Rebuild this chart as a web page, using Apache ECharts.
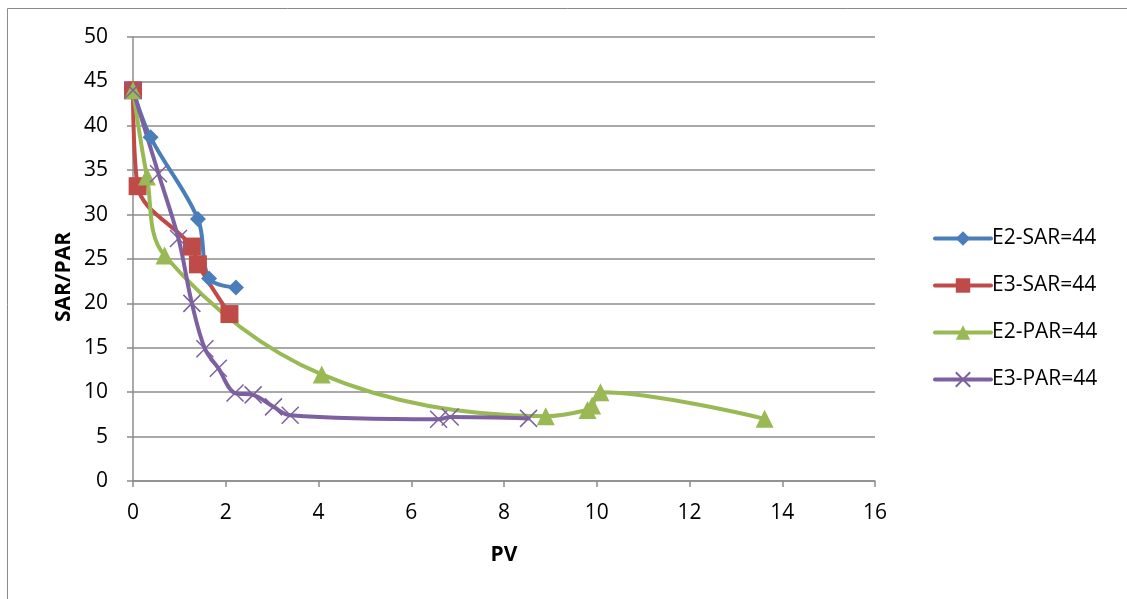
<!DOCTYPE html>
<html>
<head>
<meta charset="utf-8">
<script src="https://cdn.jsdelivr.net/npm/echarts@6/dist/echarts.min.js"></script>
<style>
  html, body { margin: 0; padding: 0; background: #fff; }
  #chart { width: 1127px; height: 599px; }
</style>
</head>
<body>
<div id="chart"></div>
<script>
// Series names
const seriesNames = ['E2-SAR=44', 'E3-SAR=44', 'E2-PAR=44', 'E3-PAR=44'];

// [PV, SAR/PAR] pairs for each series
const e2Sar = [[0, 44], [0.38, 38.7], [1.40, 29.5], [1.64, 22.8], [2.22, 21.8]];
const e3Sar = [[0, 44], [0.10, 33.2], [1.27, 26.4], [1.40, 24.4], [2.08, 18.8]];
const e2Par = [[0, 44], [0.30, 34.3], [0.68, 25.4], [4.07, 12.0], [8.90, 7.3],
               [9.80, 8.0], [9.90, 8.5], [10.08, 10.0], [13.62, 7.0]];
const e3Par = [[0, 44], [0.55, 34.6], [0.98, 27.3], [1.27, 20.0], [1.55, 14.9],
               [1.84, 12.7], [2.20, 9.9], [2.59, 9.7], [3.03, 8.35], [3.39, 7.4],
               [6.59, 6.95], [6.84, 7.2], [8.53, 7.05]];

// Axis ranges
const xRange = { min: 0, max: 16, interval: 2 };
const yRange = { min: 0, max: 50, interval: 5 };

const colors = ['#4a7ebb', '#be4b48', '#98b954', '#7d60a0'];
const font = 'Open Sans, Liberation Sans, sans-serif';
const gridGray = '#8c8c8c';

const chart = echarts.init(document.getElementById('chart'), null, { renderer: 'canvas' });

function lineSeries(name, data, color, symbol, size, extra) {
  return Object.assign({
    name: name,
    type: 'line',
    data: data,
    smooth: 0.35,
    symbol: symbol,
    symbolSize: size,
    showAllSymbol: true,
    lineStyle: { color: color, width: 4, cap: 'round', join: 'round' },
    itemStyle: { color: color },
    emphasis: { disabled: true }
  }, extra || {});
}

chart.setOption({
  animation: false,
  backgroundColor: '#fff',
  color: colors,
  grid: { left: 133, right: 252, top: 37, bottom: 118 },
  graphic: [{
    type: 'rect',
    shape: { x: 7.5, y: 8.5, width: 1200, height: 700 },
    style: { fill: 'none', stroke: '#8a8a8a', lineWidth: 1 },
    silent: true, z: -1
  }],
  legend: {
    orient: 'vertical',
    left: 928,
    top: 223,
    itemWidth: 56,
    itemHeight: 18,
    itemGap: 26,
    lineStyle: { width: 4, cap: 'round' },
    textStyle: { fontFamily: font, fontSize: 21, color: '#000', padding: [0, 0, 0, -4] },
    data: seriesNames
  },
  xAxis: {
    type: 'value',
    min: xRange.min, max: xRange.max, interval: xRange.interval,
    name: 'PV',
    nameLocation: 'middle',
    nameMoveOverlap: false,
    nameGap: 64,
    nameTextStyle: { fontFamily: font, fontSize: 21, fontWeight: 'bold', color: '#000' },
    axisLine: { show: true, lineStyle: { color: gridGray, width: 1.5 } },
    axisTick: { show: true, length: 6, lineStyle: { color: gridGray, width: 1.5 } },
    axisLabel: { fontFamily: font, fontSize: 21, color: '#000', margin: 22 },
    splitLine: { show: false }
  },
  yAxis: {
    type: 'value',
    min: yRange.min, max: yRange.max, interval: yRange.interval,
    name: 'SAR/PAR',
    nameLocation: 'middle',
    nameMoveOverlap: false,
    nameGap: 58,
    nameTextStyle: { fontFamily: font, fontSize: 21, fontWeight: 'bold', color: '#000', padding: [0, 36, 0, 0] },
    axisLine: { show: true, lineStyle: { color: gridGray, width: 1.5 } },
    axisTick: { show: true, length: 6, lineStyle: { color: gridGray, width: 1.5 } },
    axisLabel: { fontFamily: font, fontSize: 21, color: '#000', margin: 25 },
    splitLine: { show: true, lineStyle: { color: gridGray, width: 1.5 } }
  },
  series: [
    lineSeries(seriesNames[0], e2Sar, colors[0], 'diamond', 16),
    lineSeries(seriesNames[1], e3Sar, colors[1], 'rect', 18),
    lineSeries(seriesNames[2], e2Par, colors[2], 'triangle', 18),
    lineSeries(seriesNames[3], e3Par, colors[3], 'path://M0,0L10,10M10,0L0,10', 17, {
      itemStyle: { color: 'none', borderColor: colors[3], borderWidth: 1.5 }
    })
  ]
});
</script>
</body>
</html>
